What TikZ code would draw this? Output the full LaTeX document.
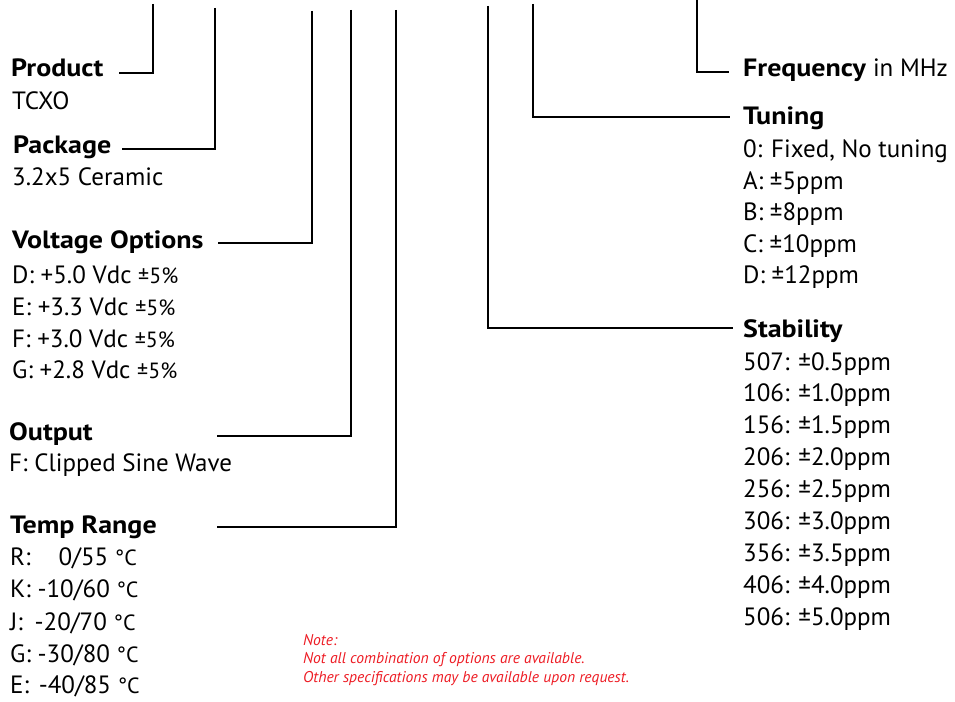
\documentclass[tikz,border=0pt]{standalone}
\usepackage{fontspec}
\setmainfont{PT Sans}
\newfontfamily\hdrfam{PT Sans}[FakeStretch=1.12]
\definecolor{notered}{RGB}{237,28,36}
\begin{document}
\begin{tikzpicture}[x=1pt,y=-1pt,
  conn/.style={line width=2pt,line cap=butt,line join=miter},
  hdr/.style={anchor=base west,inner sep=0pt,font=\fontsize{25}{30}\hdrfam\bfseries},
  itm/.style={anchor=base west,inner sep=0pt,font=\fontsize{25}{30}\selectfont},
  note/.style={anchor=base west,inner sep=0pt,text=notered,font=\fontsize{15.6}{18}\selectfont\itshape}]
\useasboundingbox (0,0) rectangle (955,701);
\newcommand{\sm}[1]{{\fontsize{22}{24}\selectfont #1}}
% left column
\node[hdr] (prod) at (11,77) {Product};
\node[itm] (prodv) at (12,109) {TCXO};
\node[hdr] (pack) at (13,153) {Package};
\node[itm] (packv) at (12,185) {3.2x5 Ceramic};
\node[hdr] (volt) at (12,248) {Voltage Options};
\node[itm] (v1) at (12,283) {D: +5.0 Vdc \sm{±5\%}};
\node[itm] (v2) at (12,315) {E: +3.3 Vdc \sm{±5\%}};
\node[itm] (v3) at (12,347) {F: +3.0 Vdc \sm{±5\%}};
\node[itm] (v4) at (12,378) {G: +2.8 Vdc \sm{±5\%}};
\node[hdr] (outp) at (9,440) {Output};
\node[itm] (outv) at (9,471) {F: Clipped Sine Wave};
\node[hdr] (temp) at (10,533) {Temp Range};
\node[itm] (t1) at (10,565) {R:\hspace{28pt}0/55 \sm{°C}};
\node[itm] (t2) at (10,597) {K: -10/60 \sm{°C}};
\node[itm] (t3) at (10,630) {J:\hspace{5pt} -20/70 \sm{°C}};
\node[itm] (t4) at (10,662) {G: -30/80 \sm{°C}};
\node[itm] (t5) at (10,693) {E:\hspace{3pt} -40/85 \sm{°C}};
% right column
\node[hdr] (freq) at (743,77) {Frequency {\mdseries\selectfont\fontspec{PT Sans} in MHz}};
\node[hdr] (tun) at (743,124) {Tuning};
\node[itm] (u1) at (743,157) {0: Fixed, No tuning};
\node[itm] (u2) at (743,189) {A: ±5ppm};
\node[itm] (u3) at (743,220) {B: ±8ppm};
\node[itm] (u4) at (743,252) {C: ±10ppm};
\node[itm] (u5) at (743,283) {D: ±12ppm};
\node[hdr] (stab) at (743,337) {Stability};
\foreach \t [count=\i] in {507: ±0.5ppm,106: ±1.0ppm,156: ±1.5ppm,206: ±2.0ppm,256: ±2.5ppm,306: ±3.0ppm,356: ±3.5ppm,406: ±4.0ppm,506: ±5.0ppm}
  \node[itm] (s\i) at (743,{370+32*(\i-1)-0.5*(\i-1)/4}) {\t};
% note
\node[note] (n1) at (303,645) {Note:};
\node[note] (n2) at (303,663) {Not all combination of options are available.};
\node[note] (n3) at (303,682) {Other specifications may be available upon request.};
% connectors
\coordinate (c1) at (153,4);   \coordinate (e1) at (119,73);
\coordinate (c2) at (215,8);   \coordinate (e2) at (122,149);
\coordinate (c3) at (312,11);  \coordinate (e3) at (218,243);
\coordinate (c4) at (351,10);  \coordinate (e4) at (217,436);
\coordinate (c5) at (396,10);  \coordinate (e5) at (217,527);
\coordinate (c6) at (488,6);   \coordinate (e6) at (733,328);
\coordinate (c7) at (533,4);   \coordinate (e7) at (730,117);
\coordinate (c8) at (697,0);   \coordinate (e8) at (729,72);
\foreach \k in {1,...,8} \draw[conn] (c\k) |- (e\k);
\end{tikzpicture}
\end{document}
